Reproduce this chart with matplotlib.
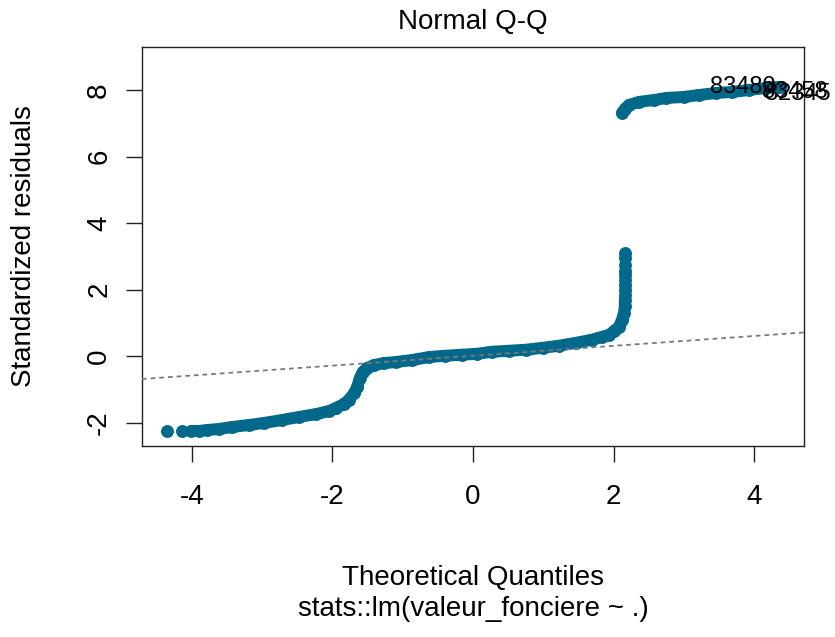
import matplotlib
matplotlib.use('Agg')
import matplotlib.pyplot as plt

plt.rcParams['font.family'] = ['Liberation Sans', 'DejaVu Sans']
plt.rcParams['axes.unicode_minus'] = False

# ---- data (theoretical quantile, standardized residual) ----
tail_x = [-4.36, -4.14]
tail_y = [-2.24, -2.24]

lower_x = [-4.01, -3.90, -3.79, -3.62, -3.43, -3.19, -2.98, -2.72, -2.48, -2.23,
           -2.05, -1.95, -1.84, -1.77, -1.69, -1.65, -1.61, -1.57, -1.51, -1.41,
           -1.27, -1.10, -0.87, -0.63, -0.40, -0.16, 0.06, 0.27, 0.51, 0.75,
           1.00, 1.22, 1.47, 1.69, 1.84, 1.94, 2.01, 2.08, 2.12, 2.15, 2.16, 2.16]
lower_y = [-2.24, -2.24, -2.21, -2.18, -2.12, -2.06, -2.00, -1.91, -1.82, -1.73,
           -1.64, -1.55, -1.43, -1.31, -1.10, -0.92, -0.65, -0.47, -0.35, -0.26,
           -0.20, -0.17, -0.11, -0.02, 0.02, 0.05, 0.08, 0.14, 0.17, 0.20,
           0.26, 0.32, 0.41, 0.50, 0.59, 0.65, 0.77, 0.89, 1.10, 1.31, 1.50, 1.70]

stack_x = [2.16, 2.16, 2.17, 2.17, 2.17, 2.17, 2.17, 2.17, 2.17]
stack_y = [1.85, 2.00, 2.15, 2.30, 2.45, 2.55, 2.75, 2.95, 3.10]

upper_x = [2.12, 2.16, 2.22, 2.36, 2.58, 2.75, 3.00, 3.22, 3.46, 3.69, 3.93, 4.17, 4.37]
upper_y = [7.31, 7.43, 7.55, 7.64, 7.70, 7.76, 7.79, 7.85, 7.91, 7.94, 8.00, 8.06, 8.09]

# Q-Q reference line through the quartiles
qq_x = [-0.674, 0.674]
qq_y = [-0.08, 0.12]

id_labels = ['83480', '83458', '82345']

x_ticks = [-4, -2, 0, 2, 4]
y_ticks = [-2, 0, 2, 4, 6, 8]

col = '#00688B'

W, H = 835, 637
fig = plt.figure(figsize=(W / 100, H / 100), dpi=100)
ax = fig.add_axes([142 / W, 1 - 446 / H, 662 / W, 399 / H])

ms = 9.3
lw_band = 8.6
# contiguous bands drawn as thick strokes plus the point markers
ax.plot(lower_x, lower_y, color=col, lw=lw_band, solid_capstyle='round',
        solid_joinstyle='round', zorder=2)
ax.plot(upper_x, upper_y, color=col, lw=lw_band, solid_capstyle='round',
        solid_joinstyle='round', zorder=2)
for xs, ys in [(tail_x, tail_y), (lower_x, lower_y), (stack_x, stack_y), (upper_x, upper_y)]:
    ax.plot(xs, ys, 'o', color=col, ms=ms, mec=col, mew=0, zorder=3)

ax.axline((qq_x[0], qq_y[0]), (qq_x[1], qq_y[1]), color='#7a7a7a', lw=1.3,
          linestyle=(0, (2.6, 2.2)), zorder=4)

# identified points
ax.annotate(id_labels[0], (upper_x[-1], upper_y[-1]), xytext=(-3, 0),
            textcoords='offset points', ha='right', va='center', fontsize=17,
            annotation_clip=False)
ax.annotate(id_labels[1], (upper_x[-2], upper_y[-2]), xytext=(-3, -3),
            textcoords='offset points', ha='left', va='center', fontsize=17,
            annotation_clip=False)
ax.annotate(id_labels[2], (upper_x[-2], upper_y[-2]), xytext=(-1, -4.5),
            textcoords='offset points', ha='left', va='center', fontsize=17,
            annotation_clip=False)

ax.set_xlim(-4.71, 4.71)
ax.set_ylim(-2.69, 9.29)
ax.set_xticks(x_ticks)
ax.set_yticks(y_ticks)
ax.set_xticklabels([str(t) for t in x_ticks])
ax.set_yticklabels([str(t) for t in y_ticks], rotation=90, va='center')
ax.tick_params(axis='both', direction='out', length=11.5, width=1.0,
               labelsize=20, color='#222222')
ax.tick_params(axis='x', pad=16)
ax.tick_params(axis='y', pad=10)
for s in ax.spines.values():
    s.set_linewidth(1.0)
    s.set_color('#222222')

fig.text(473 / W, 1 - 22 / H, 'Normal Q-Q', ha='center', va='center', fontsize=20)
fig.text(473 / W, 1 - 578 / H, 'Theoretical Quantiles', ha='center', va='center', fontsize=20)
fig.text(473 / W, 1 - 609 / H, 'stats::lm(valeur_fonciere ~ .)', ha='center', va='center', fontsize=20)
fig.text(24 / W, 1 - 246 / H, 'Standardized residuals', ha='center', va='center',
         rotation=90, fontsize=20)

fig.savefig('out.png', dpi=100)
